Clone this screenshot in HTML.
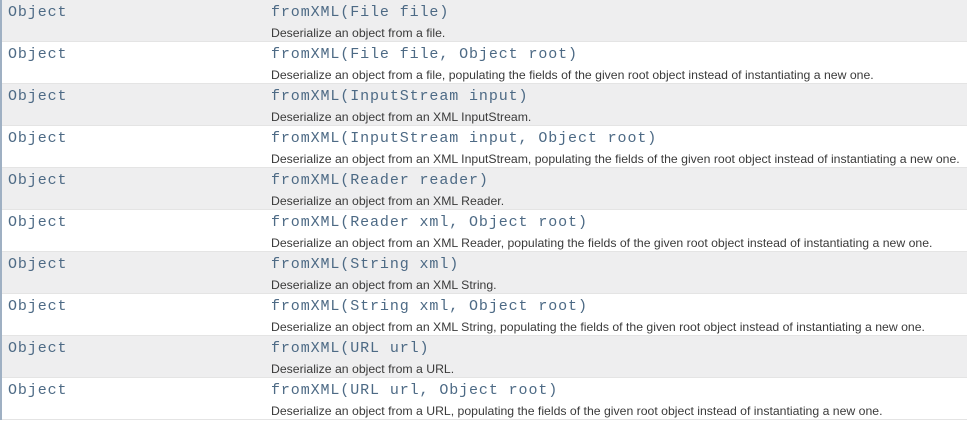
<!DOCTYPE html>
<html><head><meta charset="utf-8"><style>
html,body{margin:0;padding:0;background:#fff;}
body{width:967px;height:422px;overflow:hidden;position:relative;font-family:"Liberation Sans",Arial,sans-serif;}
.bl{position:absolute;left:0;top:0;width:2px;height:420px;background:#9fb0c3;}
.row{position:absolute;left:2px;width:965px;height:42px;border-bottom:1px solid #e4e4e4;box-sizing:border-box;}
.g{background:#eeeeef;}
.t,.m{position:absolute;top:4px;font-family:"Liberation Mono",monospace;font-size:15px;letter-spacing:0.9px;color:#4d6a85;white-space:nowrap;}
.t{left:6px;}
.m{left:269px;}
.d{position:absolute;left:269px;top:26px;font-size:12.25px;color:#3a3a3a;white-space:nowrap;}
</style></head><body>
<div class="bl"></div>
<div class="row g" style="top:0"><div class="t">Object</div><div class="m">fromXML(File file)</div><div class="d">Deserialize an object from a file.</div></div>
<div class="row" style="top:42px"><div class="t">Object</div><div class="m">fromXML(File file, Object root)</div><div class="d">Deserialize an object from a file, populating the fields of the given root object instead of instantiating a new one.</div></div>
<div class="row g" style="top:84px"><div class="t">Object</div><div class="m">fromXML(InputStream input)</div><div class="d">Deserialize an object from an XML InputStream.</div></div>
<div class="row" style="top:126px"><div class="t">Object</div><div class="m">fromXML(InputStream input, Object root)</div><div class="d">Deserialize an object from an XML InputStream, populating the fields of the given root object instead of instantiating a new one.</div></div>
<div class="row g" style="top:168px"><div class="t">Object</div><div class="m">fromXML(Reader reader)</div><div class="d">Deserialize an object from an XML Reader.</div></div>
<div class="row" style="top:210px"><div class="t">Object</div><div class="m">fromXML(Reader xml, Object root)</div><div class="d">Deserialize an object from an XML Reader, populating the fields of the given root object instead of instantiating a new one.</div></div>
<div class="row g" style="top:252px"><div class="t">Object</div><div class="m">fromXML(String xml)</div><div class="d">Deserialize an object from an XML String.</div></div>
<div class="row" style="top:294px"><div class="t">Object</div><div class="m">fromXML(String xml, Object root)</div><div class="d">Deserialize an object from an XML String, populating the fields of the given root object instead of instantiating a new one.</div></div>
<div class="row g" style="top:336px"><div class="t">Object</div><div class="m">fromXML(URL url)</div><div class="d">Deserialize an object from a URL.</div></div>
<div class="row" style="top:378px"><div class="t">Object</div><div class="m">fromXML(URL url, Object root)</div><div class="d">Deserialize an object from a URL, populating the fields of the given root object instead of instantiating a new one.</div></div>
</body></html>
